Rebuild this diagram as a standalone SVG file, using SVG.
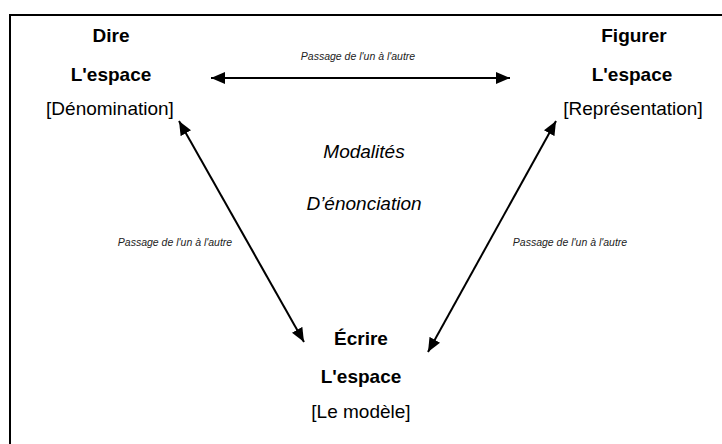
<svg xmlns="http://www.w3.org/2000/svg" width="722" height="444" viewBox="0 0 722 444">
<style>
text{font-family:"Liberation Sans",Arial,sans-serif;fill:#000;text-anchor:middle}
.b{font-weight:bold;font-size:19px}
.r{font-size:19px}
.i{font-style:italic;font-size:19px}
.s{font-style:italic;font-size:10.5px;fill:#222}
.ln{stroke:#000;stroke-width:2;fill:none;marker-start:url(#ah);marker-end:url(#ah)}
</style>
<defs>
<marker id="ah" viewBox="0 0 14 12" refX="14" refY="6" markerWidth="14" markerHeight="12" markerUnits="userSpaceOnUse" orient="auto-start-reverse">
<path d="M0,0 L14,6 L0,12 Z" fill="#000"/>
</marker>
</defs>
<rect x="0" y="0" width="722" height="444" fill="#fff"/>
<rect id="frame" x="10" y="15" width="740" height="460" fill="none" stroke="#000" stroke-width="2"/>
<g id="connectors">
<line class="ln" x1="211" y1="78" x2="510" y2="78"/>
<line class="ln" x1="179" y1="121" x2="304" y2="342"/>
<line class="ln" x1="556" y1="121" x2="428" y2="352"/>
<text class="s" x="358" y="60">Passage de l'un à l'autre</text>
<text class="s" x="175" y="246">Passage de l'un à l'autre</text>
<text class="s" x="570" y="246">Passage de l'un à l'autre</text>
</g>
<g id="dire">
<text class="b" x="111" y="42">Dire</text>
<text class="b" x="111" y="81">L'espace</text>
<text class="r" x="110" y="115">[Dénomination]</text>
</g>
<g id="figurer">
<text class="b" x="634" y="42">Figurer</text>
<text class="b" x="632" y="81">L'espace</text>
<text class="r" x="633" y="115">[Représentation]</text>
</g>
<g id="ecrire">
<text class="b" x="361" y="345">Écrire</text>
<text class="b" x="361" y="383">L'espace</text>
<text class="r" x="361" y="418">[Le modèle]</text>
</g>
<g id="modalites">
<text class="i" x="364" y="158">Modalités</text>
<text class="i" x="364" y="210">D’énonciation</text>
</g>
</svg>
